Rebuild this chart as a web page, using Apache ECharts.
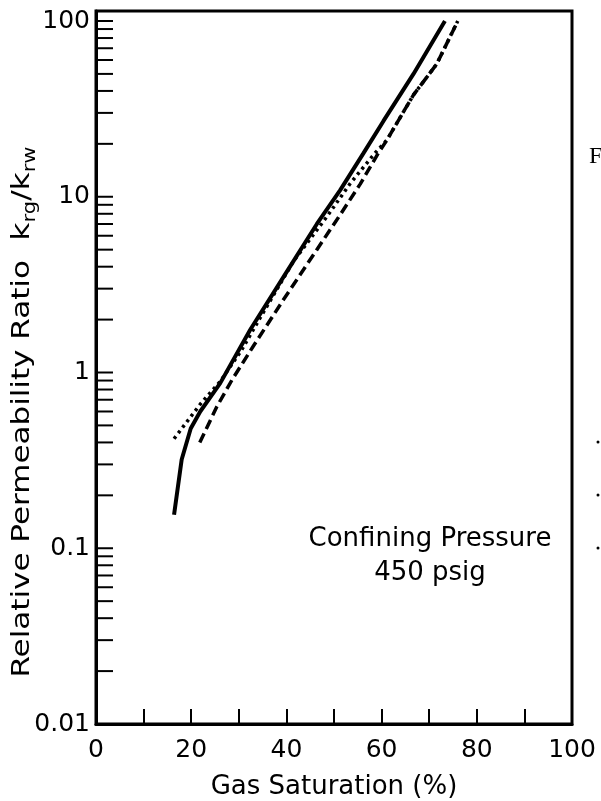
<!DOCTYPE html>
<html>
<head>
<meta charset="utf-8">
<script src="https://cdn.jsdelivr.net/npm/echarts@6/dist/echarts.min.js"></script>
<style>
html, body { margin: 0; padding: 0; background: #fff; }
#chart { width: 601px; height: 801px; }
</style>
</head>
<body>
<div id="chart"></div>
<script>
// gas saturation (%) / permeability ratio
var satSolid = [16.4, 18.0, 19.9, 21.9, 26.1, 32.4, 39.4, 46.4, 51.3, 56.2, 60.4, 66.7, 73.3];
var ratioSolid = [0.155, 0.32, 0.48, 0.60, 0.87, 1.75, 3.5, 7.0, 10.9, 17.7, 27, 50, 100];

var satDotted = [16.4, 21.9, 26.1, 30.5, 34.5, 41.5, 48.5, 53.4, 58.6, 61.1, 66.7, 71.6, 76.0];
var ratioDotted = [0.42, 0.66, 0.89, 1.33, 2.05, 4.3, 7.7, 11.9, 17.7, 21, 38, 57, 100];

var satDashed = [21.8, 25.4, 28.6, 33.1, 39.4, 46.4, 51.3, 55.5, 59.3, 61.1, 66.7, 71.6, 76.0];
var ratioDashed = [0.40, 0.64, 0.91, 1.42, 2.6, 5.0, 7.9, 11.8, 17.7, 21, 38, 57, 100];

// log ticks drawn on the left axis
var yTickValues = [
  0.01, 0.02, 0.03, 0.04, 0.05, 0.06, 0.07, 0.08, 0.09,
  0.1, 0.2, 0.3, 0.4, 0.5, 0.6, 0.7, 0.8, 0.9,
  1, 2, 3, 4, 5, 6, 7, 8, 9,
  10, 20, 30, 40, 50, 60, 70, 80, 90,
  100
];
var xLabelValues = [0, 20, 40, 60, 80, 100];

function pairs(xs, ys) {
  var out = [];
  for (var i = 0; i < xs.length; i++) out.push([xs[i], ys[i]]);
  return out;
}

var font = 'DejaVu Sans';
var chart = echarts.init(document.getElementById('chart'));

chart.setOption({
  animation: false,
  backgroundColor: '#fff',
  grid: {
    left: 96, right: 29, top: 11, bottom: 77,
    outerBoundsMode: 'none',
    containLabel: false,
    show: true, borderColor: '#000', borderWidth: 3
  },
  xAxis: {
    type: 'value',
    min: 0, max: 100, interval: 10,
    name: 'Gas Saturation (%)',
    nameLocation: 'middle',
    nameGap: 50,
    nameTextStyle: { fontFamily: font, fontSize: 26, color: '#000' },
    axisLine: { lineStyle: { color: '#000', width: 3 } },
    axisTick: { inside: true, length: 15, lineStyle: { color: '#000', width: 2 } },
    splitLine: { show: false },
    axisLabel: {
      margin: 14,
      fontFamily: font, fontSize: 25, color: '#000',
      formatter: function (v) { return xLabelValues.indexOf(v) >= 0 ? String(v) : ''; }
    }
  },
  yAxis: {
    type: 'log',
    logBase: 10,
    min: 0.01, max: 114,
    axisLine: { show: true, lineStyle: { color: '#000', width: 3 } },
    axisTick: { show: false },
    splitLine: { show: false },
    axisLabel: {
      margin: 6,
      showMaxLabel: false,
      fontFamily: font, fontSize: 25, color: '#000',
      formatter: function (v) { return String(+v.toPrecision(3)); }
    }
  },
  graphic: [
    {
      type: 'text', x: 22, y: 412, rotation: Math.PI / 2, scaleX: 1.24,
      style: {
        text: '{n|Relative Permeability Ratio  k}{s|rg}{n|/k}{s|rw}',
        fill: '#000', align: 'center', verticalAlign: 'middle',
        rich: {
          n: { fontFamily: font, fontSize: 25, lineHeight: 34, verticalAlign: 'middle' },
          s: { fontFamily: font, fontSize: 17, lineHeight: 34, verticalAlign: 'bottom' }
        }
      }
    },
    {
      type: 'text', x: 430, y: 556,
      style: {
        text: 'Confining Pressure\n450 psig',
        fontFamily: font, fontSize: 26, lineHeight: 34,
        fill: '#000', align: 'center', verticalAlign: 'middle'
      }
    },
    {
      type: 'text', x: 589, y: 157,
      style: { text: 'F', fontFamily: 'Liberation Serif', fontSize: 24, fill: '#000', verticalAlign: 'middle' }
    },
    { type: 'circle', shape: { cx: 598, cy: 442, r: 1.5 }, style: { fill: '#000' } },
    { type: 'circle', shape: { cx: 598, cy: 495, r: 1.5 }, style: { fill: '#000' } },
    { type: 'circle', shape: { cx: 598, cy: 548, r: 1.5 }, style: { fill: '#000' } }
  ],
  series: [
    {
      type: 'custom',
      silent: true,
      clip: false,
      data: yTickValues.map(function (v) { return [0, v]; }),
      renderItem: function (params, api) {
        var p = api.coord([0, api.value(1)]);
        return {
          type: 'line',
          shape: { x1: p[0], y1: p[1], x2: p[0] + 17, y2: p[1] },
          style: { stroke: '#000', lineWidth: 2 }
        };
      }
    },
    {
      type: 'line', showSymbol: false,
      data: pairs(satSolid, ratioSolid),
      lineStyle: { color: '#000', width: 4 }
    },
    {
      type: 'line', showSymbol: false,
      data: pairs(satDotted, ratioDotted),
      lineStyle: { color: '#000', width: 3.5, type: [3, 4] }
    },
    {
      type: 'line', showSymbol: false,
      data: pairs(satDashed, ratioDashed),
      lineStyle: { color: '#000', width: 3.5, type: [10, 5] }
    }
  ]
});
</script>
</body>
</html>
